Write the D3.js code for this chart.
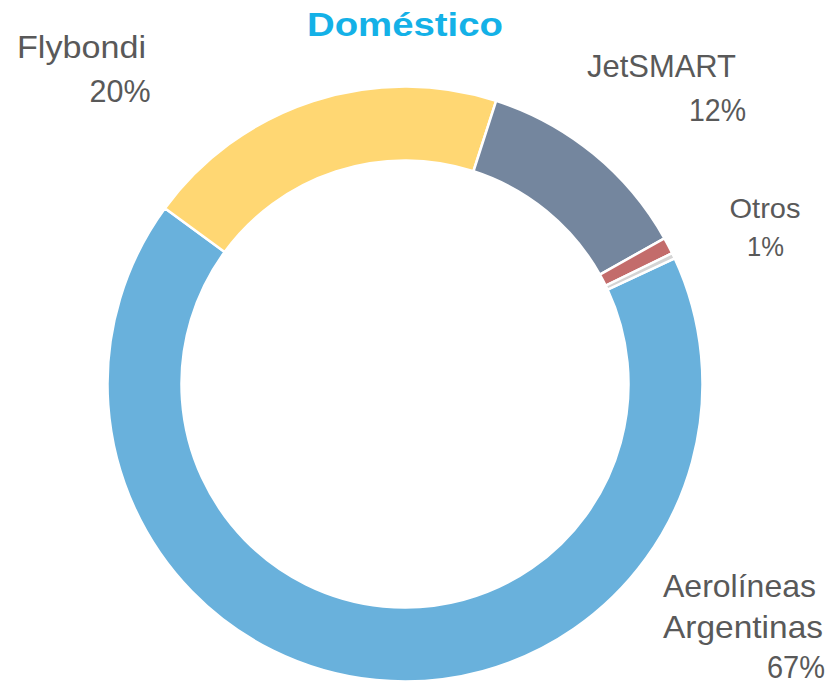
<!DOCTYPE html>
<html>
<head>
<meta charset="utf-8">
<script src="https://cdn.jsdelivr.net/npm/d3@7"></script>
<style>
  html, body { margin: 0; padding: 0; background: #ffffff; }
  svg { display: block; }
</style>
</head>
<body>
<svg id="chart" width="830" height="685"></svg>
<script>
// ---- data ----
const title = "Doméstico";
const categories = ["Aerolíneas Argentinas", "Flybondi", "JetSMART", "Otros", "Otros2"];
const values = [67.0, 19.9, 11.9, 0.9, 0.3];
const percentLabels = ["67%", "20%", "12%", "1%", ""];
const labelLines = [["Aerolíneas", "Argentinas", "67%"], ["Flybondi", "20%"], ["JetSMART", "12%"], ["Otros", "1%"], []];

// ---- styles / layout ----
const colors = ["#69B1DC", "#FFD773", "#74869E", "#C36C6B", "#D4D4D4"];
const cx = 405, cy = 384, outerR = 297.5, innerR = 223.5;
const startDeg = 65.0;
// per-line placement: [left x, baseline y, width]
const labelLayout = [
  { size: 31.5, lines: [[663, 597, 153], [663, 638, 160], [767, 678, 58]] },
  { size: 31.5, lines: [[17, 58, 129], [89.5, 102, 61]] },
  { size: 31.5, lines: [[587, 77, 149], [689, 121, 57]] },
  { size: 28,   lines: [[729.5, 218, 71], [747, 256, 37]] },
  null
];

const svg = d3.select("#chart");

const data = categories.map((c, i) => ({ name: c, value: values[i], idx: i }));
const start = startDeg * Math.PI / 180;
const pie = d3.pie().sort(null).value(d => d.value)
  .startAngle(start).endAngle(start + 2 * Math.PI);
const arc = d3.arc().innerRadius(innerR).outerRadius(outerR);

const g = svg.append("g").attr("transform", `translate(${cx},${cy})`);
g.selectAll("path.slice")
  .data(pie(data))
  .join("path")
  .attr("class", "slice")
  .attr("d", arc)
  .attr("fill", d => colors[d.data.idx])
  .attr("stroke", "#ffffff")
  .attr("stroke-width", 2.5)
  .attr("stroke-linejoin", "round");

// title
svg.append("text")
  .attr("x", 307).attr("y", 35.5)
  .attr("font-family", "Liberation Sans, Arial, sans-serif")
  .attr("font-weight", "bold")
  .attr("font-size", 33)
  .attr("fill", "#14B1E7")
  .attr("textLength", 196)
  .attr("lengthAdjust", "spacingAndGlyphs")
  .text(title);

// labels
labelLines.forEach((lines, i) => {
  const L = labelLayout[i];
  if (!L || !lines.length) return;
  lines.forEach((ln, j) => {
    const [x, y, w] = L.lines[j];
    svg.append("text")
      .attr("x", x).attr("y", y)
      .attr("font-family", "Liberation Sans, Arial, sans-serif")
      .attr("font-size", L.size)
      .attr("fill", "#595959")
      .attr("textLength", w)
      .attr("lengthAdjust", "spacingAndGlyphs")
      .text(ln);
  });
});
</script>
</body>
</html>
